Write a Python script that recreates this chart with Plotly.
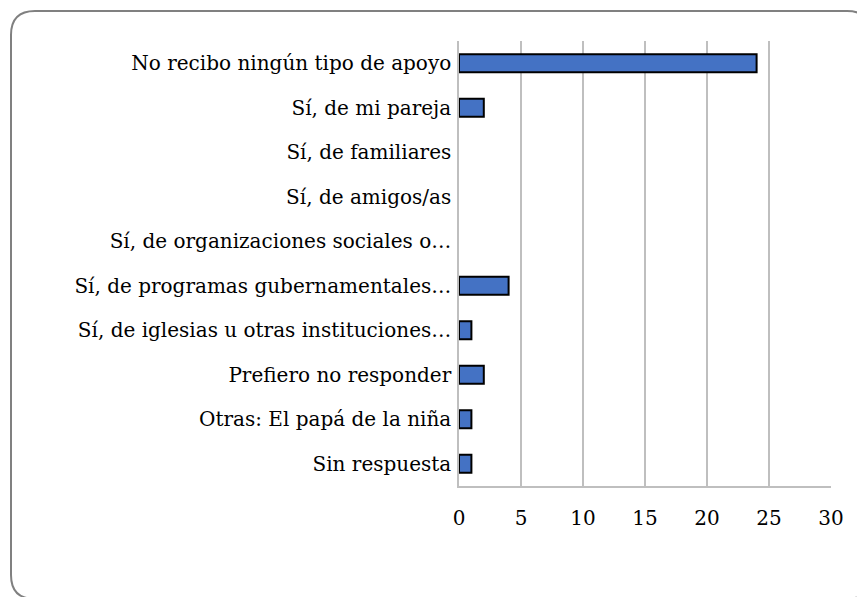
import plotly.graph_objects as go

categories = [
    "No recibo ningún tipo de apoyo",
    "Sí, de mi pareja",
    "Sí, de familiares",
    "Sí, de amigos/as",
    "Sí, de organizaciones sociales o…",
    "Sí, de programas gubernamentales…",
    "Sí, de iglesias u otras instituciones…",
    "Prefiero no responder",
    "Otras: El papá de la niña",
    "Sin respuesta",
]
values = [24, 2, 0, 0, 0, 4, 1, 2, 1, 1]
x_ticks = [0, 5, 10, 15, 20, 25, 30]

W, H = 865, 597
OFF = 8  # page body margin
L, R, T, B = 459 - OFF, 831 - OFF, 41 - OFF, 486 - OFF

def px(x):
    return (x - OFF - L) / (R - L)

def py(y):
    return (B - (y - OFF)) / (B - T)

FONT = "DejaVu Serif"

fig = go.Figure(go.Bar(
    x=values, y=categories, orientation="h",
    marker=dict(color="#4472C4",
                line=dict(color="black", width=[2 if v > 0 else 0 for v in values])),
    width=0.4,
))

# rounded frame (page pixel coordinates)
x0, x1, y0, y1, r = 11, 871, 11, 599, 24
path = (f"M {px(x0+r)},{py(y0)} L {px(x1-r)},{py(y0)} Q {px(x1)},{py(y0)} {px(x1)},{py(y0+r)} "
        f"L {px(x1)},{py(y1-r)} Q {px(x1)},{py(y1)} {px(x1-r)},{py(y1)} "
        f"L {px(x0+r)},{py(y1)} Q {px(x0)},{py(y1)} {px(x0)},{py(y1-r)} "
        f"L {px(x0)},{py(y0+r)} Q {px(x0)},{py(y0)} {px(x0+r)},{py(y0)} Z")
fig.add_shape(type="path", path=path, xref="paper", yref="paper",
              line=dict(color="#808080", width=2), layer="below")

fig.update_layout(
    width=W, height=H,
    margin=dict(l=L, r=W - R, t=T, b=H - B),
    paper_bgcolor="white", plot_bgcolor="white",
    showlegend=False,
    font=dict(family=FONT, size=20, color="black"),
    xaxis=dict(range=[0, 30], tickvals=x_ticks, showgrid=True, gridcolor="#BFBFBF",
               gridwidth=1.5, zeroline=False, showline=True, linecolor="#BFBFBF",
               linewidth=1.5, ticks="outside", ticklen=0, ticklabelstandoff=13,
               tickfont=dict(size=20)),
    yaxis=dict(categoryorder="array", categoryarray=categories[::-1],
               range=[-0.5, 9.5], showline=True, linecolor="#BFBFBF", linewidth=1.5,
               showgrid=False, ticks="outside", ticklen=0, ticklabelstandoff=2,
               tickfont=dict(size=20)),
)

fig.write_html("out.html")
